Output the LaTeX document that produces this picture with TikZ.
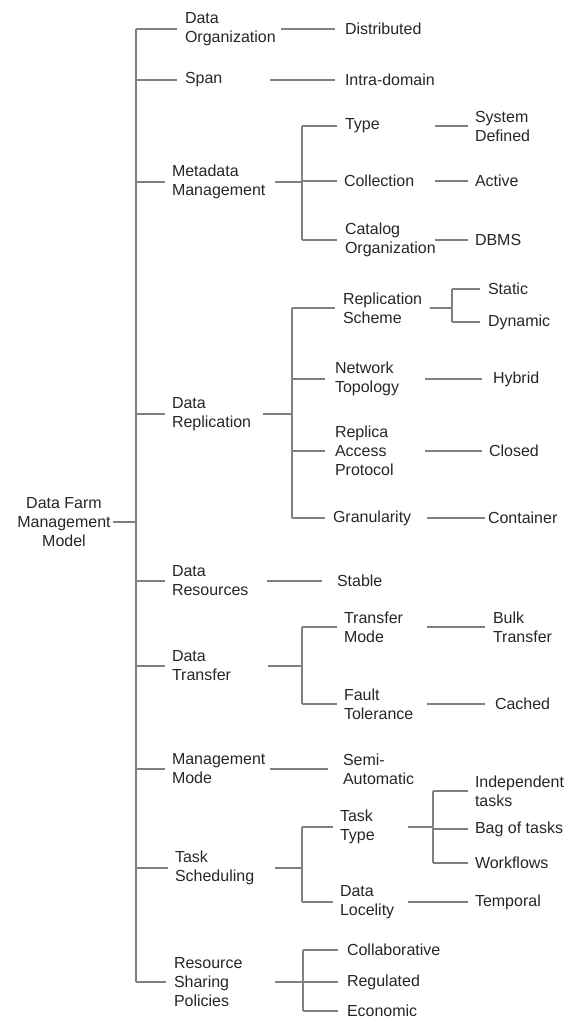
\documentclass[tikz,border=0pt]{standalone}
\usepackage{fontspec}
\setmainfont{Liberation Sans}
\begin{document}
\begin{tikzpicture}[x=1pt,y=-1pt,
  t/.style={anchor=west,inner sep=0pt,outer sep=0pt,align=left,
    font=\fontsize{16}{19}\selectfont,text=black!85},
  ln/.style={draw=black!50,line width=1.2pt}]
\path[use as bounding box] (0,0) rectangle (570,1019);
\clip (0,0) rectangle (570,1019);

% root
\node[t,anchor=center,align=center] (root) at (64,522) {Data Farm\\Management\\Model};

% level 1
\node[t] (dorg) at (185,29) {Data\\Organization};
\node[t] (span) at (185,80) {Span};
\node[t] (meta) at (172,182) {Metadata\\Management};
\node[t] (repl) at (172,414) {Data\\Replication};
\node[t] (res)  at (172,581) {Data\\Resources};
\node[t] (xfer) at (172,666) {Data\\Transfer};
\node[t] (mgmt) at (172,769) {Management\\Mode};
\node[t] (task) at (175,868) {Task\\Scheduling};
\node[t] (rsp)  at (174,982) {Resource\\Sharing\\Policies};

% level 2
\node[t] (distr) at (345,29) {Distributed};
\node[t] (intra) at (345,80) {Intra-domain};
\node[t] (type) at (345,126) {Type};
\node[t] (coll) at (344,181) {Collection};
\node[t] (cat)  at (345,240) {Catalog\\Organization};
\node[t] (rsch) at (343,308) {Replication\\Scheme};
\node[t] (ntop) at (335,379) {Network\\Topology};
\node[t] (rap)  at (335,451) {Replica\\Access\\Protocol};
\node[t] (gran) at (333,518) {Granularity};
\node[t] (stable) at (337,581) {Stable};
\node[t] (tmode) at (344,627) {Transfer\\Mode};
\node[t] (ftol)  at (344,704) {Fault\\Tolerance};
\node[t] (semi)  at (343,769) {Semi-\\Automatic};
\node[t] (ttype) at (340,827) {Task\\Type};
\node[t] (dloc)  at (340,902) {Data\\Locelity};
\node[t] (collab) at (347,950) {Collaborative};
\node[t] (regul)  at (347,982) {Regulated};
\node[t] (econ)   at (347,1011) {Economic};

% level 3
\node[t] (sysdef) at (475,126) {System\\Defined};
\node[t] (active) at (475,181) {Active};
\node[t] (dbms)   at (475,240) {DBMS};
\node[t] (static) at (488,289) {Static};
\node[t] (dynamic) at (488,322) {Dynamic};
\node[t] (hybrid) at (493,379) {Hybrid};
\node[t] (closed) at (489,451) {Closed};
\node[t] (cont)   at (488,518) {Container};
\node[t] (bulk)   at (493,627) {Bulk\\Transfer};
\node[t] (cached) at (495,704) {Cached};
\node[t] (indep)  at (475,791) {Independent\\tasks};
\node[t] (bag)    at (475,829) {Bag of tasks};
\node[t] (wflow)  at (475,863) {Workflows};
\node[t] (temporal) at (475,902) {Temporal};

% joint columns
\coordinate (tr) at (136,0);
\coordinate (mJ) at (302,0);
\coordinate (rJ) at (292,0);
\coordinate (xJ) at (302,0);
\coordinate (tJ) at (302,0);
\coordinate (sJ) at (303,0);
\coordinate (rsJ) at (452,0);
\coordinate (ttJ) at (433,0);

% main trunk
\draw[ln] (tr |- dorg.west) -- (tr |- rsp.west);
\draw[ln] ([xshift=2pt]root.east) -- (tr |- root.east);
\foreach \n/\g in {dorg/8,span/8,meta/7,repl/7,res/7,xfer/7,mgmt/7,task/7,rsp/8}
  \draw[ln] (tr |- \n.west) -- ([xshift=-\g pt]\n.west);

% level 1 right connectors
\draw[ln] ([xshift=96pt]dorg.west) -- ([xshift=-10pt]distr.west);
\draw[ln] ([xshift=85pt]span.west) -- ([xshift=-10pt]intra.west);
\draw[ln] ([xshift=103pt]meta.west) -- (mJ |- meta.west);
\draw[ln] ([xshift=91pt]repl.west) -- (rJ |- repl.west);
\draw[ln] ([xshift=95pt]res.west) -- ([xshift=-15pt]stable.west);
\draw[ln] ([xshift=96pt]xfer.west) -- (xJ |- xfer.west);
\draw[ln] ([xshift=98pt]mgmt.west) -- ([xshift=-15pt]semi.west);
\draw[ln] ([xshift=100pt]task.west) -- (tJ |- task.west);
\draw[ln] ([xshift=101pt]rsp.west) -- (sJ |- rsp.west);

% sub trunks
\draw[ln] (mJ |- type.west) -- (mJ |- cat.west);
\draw[ln] (rJ |- rsch.west) -- (rJ |- gran.west);
\draw[ln] (xJ |- tmode.west) -- (xJ |- ftol.west);
\draw[ln] (tJ |- ttype.west) -- (tJ |- dloc.west);
\draw[ln] (sJ |- collab.west) -- (sJ |- econ.west);
\draw[ln] (rsJ |- static.west) -- (rsJ |- dynamic.west);
\draw[ln] (ttJ |- indep.west) -- (ttJ |- wflow.west);

% level 2 left connectors
\foreach \n/\g in {type/8,coll/7,cat/8}
  \draw[ln] (mJ |- \n.west) -- ([xshift=-\g pt]\n.west);
\foreach \n/\g in {rsch/8,ntop/10,rap/10,gran/8}
  \draw[ln] (rJ |- \n.west) -- ([xshift=-\g pt]\n.west);
\foreach \n in {tmode,ftol}
  \draw[ln] (xJ |- \n.west) -- ([xshift=-7pt]\n.west);
\foreach \n in {ttype,dloc}
  \draw[ln] (tJ |- \n.west) -- ([xshift=-7pt]\n.west);
\foreach \n in {collab,regul,econ}
  \draw[ln] (sJ |- \n.west) -- ([xshift=-9pt]\n.west);

% level 2 right connectors
\draw[ln] ([xshift=90pt]type.west) -- ([xshift=-7pt]sysdef.west);
\draw[ln] ([xshift=91pt]coll.west) -- ([xshift=-7pt]active.west);
\draw[ln] ([xshift=90pt]cat.west) -- ([xshift=-7pt]dbms.west);
\draw[ln] ([xshift=87pt]rsch.west) -- (rsJ |- rsch.west);
\draw[ln] ([xshift=90pt]ntop.west) -- ([xshift=-11pt]hybrid.west);
\draw[ln] ([xshift=90pt]rap.west) -- ([xshift=-7pt]closed.west);
\draw[ln] ([xshift=94pt]gran.west) -- ([xshift=-3pt]cont.west);
\draw[ln] ([xshift=83pt]tmode.west) -- ([xshift=-8pt]bulk.west);
\draw[ln] ([xshift=83pt]ftol.west) -- ([xshift=-10pt]cached.west);
\draw[ln] ([xshift=68pt]ttype.west) -- (ttJ |- ttype.west);
\draw[ln] ([xshift=68pt]dloc.west) -- ([xshift=-7pt]temporal.west);

% level 3 connectors
\foreach \n in {static,dynamic}
  \draw[ln] (rsJ |- \n.west) -- ([xshift=-8pt]\n.west);
\foreach \n in {indep,bag,wflow}
  \draw[ln] (ttJ |- \n.west) -- ([xshift=-7pt]\n.west);
\end{tikzpicture}
\end{document}
